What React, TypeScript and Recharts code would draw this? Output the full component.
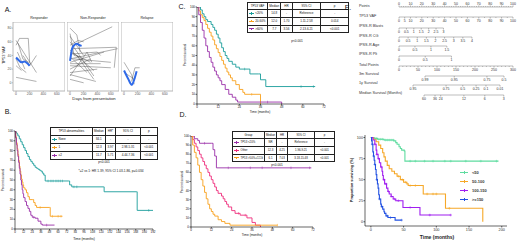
import React from 'react';
import { ComposedChart, Line, Scatter, XAxis, YAxis, ReferenceArea } from 'recharts';

const FONT = '"Liberation Sans", Arial, Helvetica, sans-serif';

type P = [number, number];

// ---------- A: TP53 VAF trajectories (day, VAF %) ----------
const responderTracks: P[][] = [
  [[0, 62], [300, 15]],
  [[0, 55], [50, 65], [180, 65], [200, 30]],
  [[20, 45], [130, 20]],
  [[0, 8], [300, 2]],
  [[100, 40], [200, 25], [300, 40]],
  [[0, 35], [60, 22], [150, 15]],
  [[30, 58], [100, 35], [220, 28]],
  [[0, 25], [80, 18]],
];
const responderTrend: P[] = [[0, 37], [40, 33], [80, 30], [120, 31], [160, 29], [200, 25]];

const nonResponderTracks: P[][] = [
  [[0, 80], [100, 70], [150, 45]],
  [[50, 55], [620, 82]],
  [[0, 68], [200, 40]],
  [[0, 60], [350, 10]],
  [[20, 50], [680, 52], [650, 22]],
  [[0, 45], [300, 30]],
  [[0, 42], [400, 45], [450, 40]],
  [[0, 38], [250, 15]],
  [[0, 30], [500, 45]],
  [[0, 20], [300, 35]],
  [[0, 15], [400, 20]],
  [[0, 10], [250, 45], [320, 30]],
  [[0, 25], [600, 22]],
  [[0, 5], [200, 0]],
  [[50, 35], [600, 30]],
  [[0, 55], [120, 62], [200, 60]],
  [[0, 48], [350, 18]],
  [[100, 40], [350, 5]],
  [[0, 28], [450, 28]],
  [[0, 12], [380, 2]],
  [[0, 35], [700, 50]],
  [[0, 72], [60, 40], [150, 38]],
];
const nonResponderTrend: P[] = [[0, 32], [15, 42], [30, 50], [60, 55], [100, 57], [140, 55], [170, 54]];

const relapseTracks: P[][] = [
  [[0, 30], [110, 12], [150, -2]],
  [[110, 2], [160, 22], [230, 22]],
  [[20, 14], [140, 6]],
];
const relapseTrend: P[] = [[0, 18], [60, 6], [115, -3], [150, 5], [185, 17]];

const aXTicks = [0, 200, 400, 600];
const aYTicks = [0, 20, 40, 60, 80];

// ---------- B: TP53 abnormalities (months, % surviving) ----------
const bNone: P[] = [[0, 100], [1, 99], [2, 98], [3, 97], [4, 95], [6, 92], [8, 89], [10, 86], [12, 83], [14, 80], [16, 77], [18, 74], [20, 71], [22, 69], [24, 67], [26, 65], [28, 63], [30, 62], [32, 61], [34, 60], [36, 59], [38, 57], [40, 55], [42, 49], [74, 49], [76, 45], [79, 43], [123, 43], [124, 38], [169, 38], [170, 19], [192, 19]];
const bOne: P[] = [[0, 100], [1, 94], [2, 88], [3, 82], [4, 76], [5, 70], [6, 64], [7, 59], [8, 55], [9, 51], [10, 48], [11, 45], [12, 42], [14, 40], [16, 37], [18, 33], [20, 30], [24, 30], [26, 27], [28, 24], [30, 22], [48, 22], [49, 13], [66, 13]];
const bTwo: P[] = [[0, 100], [1, 93], [2, 86], [3, 80], [4, 74], [5, 68], [6, 62], [7, 56], [8, 50], [9, 45], [10, 40], [11, 36], [12, 32], [14, 28], [16, 24], [18, 21], [20, 18], [22, 14], [24, 12], [28, 11], [32, 8], [36, 5], [38, 4], [55, 4]];
const bNoneCens = [46, 50, 53, 57, 60, 63, 66, 82, 86, 186];
const bOneCens = [35, 52, 60, 64];
const bTwoCens = [26, 44];
const bTicks = [0, 12, 24, 36, 48, 60, 72, 84, 96, 108, 120, 132, 144, 156, 168, 180, 192];
const pctTicks = [0, 10, 20, 30, 40, 50, 60, 70, 80, 90, 100];
const bHeader = ['TP53 abnormalities', 'Median', 'HR*', '95% CI', 'p'];
const bRows = [
  ['None', '84.1', '-', '-', '-'],
  ['1', '12.3', '3.97', '2.98-5.31', '<0.001'],
  ['\u22652', '11.7', '5.71', '4.44-7.36', '<0.001'],
];

// ---------- C: TP53 VAF groups ----------
const cLow: P[] = [[0, 100], [2, 97], [3, 93], [4, 90], [5, 87], [6, 85], [8, 82], [9, 79], [10, 76], [11, 72], [12, 68], [13, 63], [14, 58], [15, 54], [16, 50], [17, 47], [18, 44], [20, 41], [22, 38], [24, 36], [29, 36], [30, 31], [35, 31], [36, 25], [38, 25], [39, 18], [67, 18]];
const cMid: P[] = [[0, 100], [1, 96], [2, 92], [3, 89], [4, 86], [5, 82], [6, 78], [7, 74], [8, 70], [9, 66], [10, 61], [11, 57], [12, 53], [13, 49], [14, 45], [15, 41], [16, 37], [17, 33], [18, 30], [19, 27], [20, 24], [22, 20], [24, 15], [26, 12], [27, 10], [36, 10], [36, 0]];
const cHigh: P[] = [[0, 100], [1, 92], [2, 84], [3, 76], [4, 68], [5, 60], [6, 54], [7, 48], [8, 43], [9, 38], [10, 34], [11, 30], [12, 27], [13, 24], [14, 20], [16, 15], [18, 10], [20, 7], [22, 4], [23, 2], [48, 2], [48, 0]];
const cLowCens = [27, 59, 66];
const cMidCens = [31];
const cHighCens = [40];
const kmTicks72 = [0, 12, 24, 36, 48, 60, 72];
const cHeader = ['TP53 VAF', 'Median', 'HR', '95% CI', 'p'];
const cRows = [
  ['<20%', '14.8', '-', 'Reference', '-'],
  ['20-60%', '12.0', '1.70', '1.11-2.58', '0.014'],
  ['>60%', '7.7', '3.56', '2.13-6.21', '<0.001'],
];

// ---------- D: combined groups ----------
const dLow: P[] = [[0, 100], [2, 97], [4, 95], [5, 92], [12, 92], [13, 85], [14, 78], [15, 65], [71, 65]];
const dOther: P[] = [[0, 100], [1, 96], [2, 92], [3, 88], [4, 84], [5, 80], [6, 76], [7, 72], [8, 68], [9, 64], [10, 60], [11, 56], [12, 52], [13, 48], [14, 44], [15, 40], [16, 37], [18, 34], [19, 31], [20, 28], [21, 25], [22, 22], [24, 18], [26, 15], [29, 13], [33, 10], [36, 5], [38, 2], [41, 2], [41, 0]];
const dHigh: P[] = [[0, 100], [1, 90], [2, 82], [3, 76], [4, 68], [5, 60], [6, 52], [7, 45], [8, 38], [9, 31], [10, 25], [11, 20], [12, 17], [13, 14], [14, 12], [16, 8], [18, 6], [20, 4], [23, 2], [51, 2]];
const dLowCens = [8, 22, 35, 42, 59, 70];
const dOtherCens = [28, 32];
const dHighCens = [51];
const dHeader = ['Group', 'Median', 'HR', '95% CI', 'p'];
const dRows = [
  ['TP53 <20%', 'NR', '-', 'Reference', '-'],
  ['Other', '12.3', '4.25', '1.96-9.21', '<0.001'],
  ['TP53 >50%+CCG', '6.1', '7.03', '3.18-15.48', '<0.001'],
];

// ---------- E: nomogram ----------
const pointsTicks = [0, 10, 20, 30, 40, 50, 60, 70, 80, 90, 100];
const vafTicks = [0, 5, 10, 20, 30, 40, 50, 60, 70, 80, 90, 100];
const blastTicks = [0, 0.5, 1, 1.5, 2, 2.5, 3];
const cgTicks = [0, 0.5, 1, 1.5, 2, 2.5, 3, 3.5, 4];
const ageTicks = [0, 0.5, 1, 1.5];
const pltTicks = [0, 0.5, 1];
const totalTicks = [0, 50, 100, 150, 200, 250, 300];
const blastMaxPts = 39;
const cgMaxPts = 64;
const ageMaxPts = 42;
const pltMaxPts = 46;
const surv3mLabels = ['0.99', '0.95', '0.75', '0.5'];
const surv3mPts = [68, 145, 231, 276];
const surv1yLabels = ['0.95', '0.75', '0.5', '0.25', '0.1', '0.01'];
const surv1yPts = [38, 125, 169, 204, 230, 267];
const medLabels = ['60', '36', '24', '12', '6', '3'];
const medPts = [66, 95, 110, 171, 226, 276];

// ---------- bottom right: score groups ----------
const eLt50: P[] = [[0, 100], [5, 99], [10, 98], [20, 97], [35, 96], [38, 94], [40, 92], [43, 89], [45, 87], [47, 85], [51, 84], [52, 72], [195, 72]];
const e50: P[] = [[0, 100], [4, 98], [8, 95], [12, 91], [15, 87], [18, 82], [20, 77], [22, 72], [25, 67], [28, 63], [32, 60], [36, 57], [40, 54], [45, 50], [50, 47], [55, 45], [57, 43], [79, 43], [80, 33], [113, 33], [114, 16], [171, 16], [171, 0]];
const e100: P[] = [[0, 100], [3, 97], [6, 92], [8, 85], [9, 80], [11, 75], [13, 70], [15, 65], [17, 60], [18, 55], [19, 50], [21, 45], [24, 40], [26, 36], [28, 33], [31, 30], [34, 27], [38, 25], [48, 25], [49, 17], [74, 17], [75, 8], [122, 8]];
const e150: P[] = [[0, 100], [1, 96], [2, 92], [3, 83], [4, 78], [5, 73], [6, 68], [7, 62], [8, 56], [9, 50], [10, 45], [11, 40], [12, 32], [13, 27], [15, 21], [16, 18], [18, 15], [20, 12], [21, 10], [23, 7], [26, 5], [35, 5], [37, 2], [47, 2]];
const eLt50Cens = [8, 12, 15, 18, 22, 25, 28, 31, 34, 60, 68, 82, 95, 113, 122, 145, 168, 192];
const e50Cens = [42, 48, 53, 60, 68, 86, 95, 100, 120];
const e100Cens = [6, 9, 12, 16, 20, 23, 27, 31, 36, 42, 60, 90, 122];
const e150Cens = [2, 4, 6, 9, 13, 17, 25, 30, 47];
const eGroups = ['<50', '50-100', '100-150', '>=150'];
const eTicksX = [0, 50, 100, 150, 200];
const eTicksY = [0, 25, 50, 75, 100];

const TEAL = '#1a9d9b';
const ORANGE = '#f8a01c';
const PURPLE = '#9a2fa8';
const PINK = '#ee2c7c';
const eColors = ['#5fdca0', '#f6a828', '#a01ef0', '#2251e2'];

type Curve = { name: string; color: string; pts: P[]; cens?: number[] };

const toTS = (pts: P[]) => pts.map(([t, s]) => ({ t, s }));
const toDV = (pts: P[]) => pts.map(([d, v]) => ({ d, v }));

function survAt(pts: P[], t: number) {
  let s = pts[0][1];
  for (const [tt, ss] of pts) {
    if (tt <= t) s = ss;
    else break;
  }
  return s;
}

function Txt({ x, y, s = 4, a = 'c', w = 400, c = '#111', r = 0, children }: any) {
  const tx = a === 'l' ? '0' : '-50%';
  return (
    <div style={{ position: 'absolute', left: x, top: y, transform: `translate(${tx},-50%) rotate(${r}deg)`, fontSize: s, fontWeight: w, color: c, whiteSpace: 'nowrap', lineHeight: 1 }}>
      {children}
    </div>
  );
}

function Facet({ x, title, tracks, trend, showY }: any) {
  const yw = showY ? 9 : 0;
  const w = 52, h = 69, xh = 8;
  return (
    <div style={{ position: 'absolute', left: x - yw, top: 22 }}>
      <ComposedChart width={yw + w} height={h + xh} margin={{ top: 0, right: 0, bottom: 0, left: 0 }}>
        <XAxis type="number" dataKey="d" domain={[-45, 720]} ticks={aXTicks} interval={0} height={xh} axisLine={false}
          tick={{ fontSize: 3.4, fill: '#555' }} tickSize={1.2} tickMargin={0.5} stroke="#777" strokeWidth={0.4} allowDataOverflow />
        <YAxis type="number" dataKey="v" domain={[-12, 89]} ticks={aYTicks} interval={0} width={yw} hide={!showY} axisLine={false}
          tick={{ fontSize: 3.4, fill: '#555' }} tickSize={1.2} tickMargin={0.5} stroke="#777" strokeWidth={0.4} allowDataOverflow />
        <ReferenceArea x1={-45} x2={720} y1={-12} y2={89} fill="none" stroke="#b0b0b0" strokeWidth={0.9} ifOverflow="visible" />
        {tracks.map((tr: P[], i: number) => (
          <Line key={i} data={toDV(tr)} dataKey="v" type="linear" stroke="#444" strokeOpacity={0.85} strokeWidth={0.5} dot={false} isAnimationActive={false} />
        ))}
        <Line data={toDV(trend)} dataKey="v" type="monotone" stroke="#2f6ae8" strokeWidth={2} dot={false} isAnimationActive={false} />
      </ComposedChart>
      <Txt x={yw + w / 2} y={-3} s={3.6} c="#222">{title}</Txt>
    </div>
  );
}

function censorShape(color: string, plus: boolean) {
  return (p: any) => (
    <g>
      <line x1={p.cx} x2={p.cx} y1={p.cy - 1.3} y2={p.cy + 1.3} stroke={color} strokeWidth={0.5} />
      {plus && <line x1={p.cx - 1.3} x2={p.cx + 1.3} y1={p.cy} y2={p.cy} stroke={color} strokeWidth={0.5} />}
    </g>
  );
}

function KM({ box, xDomain, xTicks, yDomain, yTicks, curves, yw = 8, font = 3, tickColor = '#111', lw = 0.9, plus = false }: any) {
  const pad = 3, xh = 7;
  return (
    <div style={{ position: 'absolute', left: box.x - yw, top: box.y - pad }}>
      <ComposedChart width={yw + box.w + pad} height={pad + box.h + xh} margin={{ top: pad, right: pad, bottom: 0, left: 0 }}>
        <XAxis type="number" dataKey="t" domain={xDomain} ticks={xTicks} interval={0} height={xh} allowDataOverflow
          tick={{ fontSize: font, fill: tickColor }} tickSize={1.5} tickMargin={0.5} stroke="#000" strokeWidth={0.6} />
        <YAxis type="number" dataKey="s" domain={yDomain} ticks={yTicks} interval={0} width={yw} allowDataOverflow
          tick={{ fontSize: font, fill: tickColor }} tickSize={1.5} tickMargin={0.5} stroke="#000" strokeWidth={0.6} />
        {curves.map((c: Curve) => (
          <Line key={c.name} name={c.name} data={toTS(c.pts)} dataKey="s" type="stepAfter" stroke={c.color} strokeWidth={lw} dot={false} isAnimationActive={false} />
        ))}
        {curves.filter((c: Curve) => c.cens).map((c: Curve) => (
          <Scatter key={c.name + '-cens'} data={(c.cens as number[]).map((t) => ({ t, s: survAt(c.pts, t) }))} dataKey="s"
            shape={censorShape(c.color, plus)} isAnimationActive={false} />
        ))}
      </ComposedChart>
    </div>
  );
}

function StatTable({ x, y, cols, rowH, header, rows, colors, fs = 3 }: any) {
  const cell: React.CSSProperties = { border: '0.5px solid #222', padding: 0, height: rowH, lineHeight: 1, textAlign: 'center', whiteSpace: 'nowrap' };
  return (
    <table style={{ position: 'absolute', left: x, top: y, borderCollapse: 'collapse', tableLayout: 'fixed', fontSize: fs, fontFamily: FONT, color: '#111', width: cols.reduce((a: number, b: number) => a + b, 0) }}>
      <colgroup>{cols.map((w: number, i: number) => <col key={i} style={{ width: w }} />)}</colgroup>
      <tbody>
        <tr>{header.map((h: string, i: number) => <td key={i} style={cell}>{h}</td>)}</tr>
        {rows.map((r: string[], ri: number) => (
          <tr key={ri}>
            {r.map((v, i) => (
              <td key={i} style={{ ...cell, textAlign: i === 0 ? 'left' : 'center' }}>
                {i === 0 && (
                  <span style={{ display: 'inline-block', width: 5, height: 0, borderTop: `0.8px solid ${colors[ri]}`, margin: '0 1.5px 0 1px', verticalAlign: 'middle', position: 'relative' }}>
                    <span style={{ position: 'absolute', left: 2.1, top: -1.6, width: 0, height: 2.4, borderLeft: `0.5px solid ${colors[ri]}` }} />
                  </span>
                )}
                {v}
              </td>
            ))}
          </tr>
        ))}
      </tbody>
    </table>
  );
}

function NomoAxis({ left, width, axisY, domain, major, minor = [], fmt = (v: number) => String(v), top = false }: any) {
  const h = 8, side = 4;
  const majorSet = new Set<number>(major);
  const all = [...major, ...minor.filter((m: number) => !majorSet.has(m))].sort((a, b) => a - b);
  const renderTick = (p: any) => {
    const v = p.payload.value;
    const big = majorSet.has(v);
    const dir = top ? -1 : 1;
    return (
      <g>
        <line x1={p.x} x2={p.x} y1={p.y} y2={p.y + dir * (big ? 1.6 : 0.9)} stroke="#444" strokeWidth={0.35} />
        {big && (
          <text x={p.x} y={top ? p.y - 2.3 : p.y + 5} textAnchor="middle" fontSize={3.5} fill="#333" fontFamily={FONT}>{fmt(v)}</text>
        )}
      </g>
    );
  };
  return (
    <div style={{ position: 'absolute', left: left - side, top: top ? axisY - h : axisY - 1 }}>
      <ComposedChart width={width + 2 * side} height={h + 1} margin={{ top: 0, right: side, bottom: 0, left: side }}>
        <XAxis type="number" dataKey="x" orientation={top ? 'top' : 'bottom'} domain={domain} ticks={all} interval={0} height={h}
          tickSize={0} tickMargin={0} tickLine={false} tick={renderTick} stroke="#444" strokeWidth={0.35} allowDataOverflow />
        <YAxis hide domain={[0, 1]} />
        <Line data={domain.map((x: number) => ({ x, y: 0 }))} dataKey="y" stroke="none" dot={false} isAnimationActive={false} />
      </ComposedChart>
    </div>
  );
}

const range = (a: number, b: number, step: number) => {
  const out: number[] = [];
  for (let v = a; v <= b + 1e-9; v += step) out.push(Math.round(v * 100) / 100);
  return out;
};

export default function App() {
  const NX = 399, NW = 114;
  const ptsW = (p: number) => (NW * p) / 100;
  const survAxis = (y: number, labels: string[], pts: number[]) => {
    const lo = pts[0], hi = pts[pts.length - 1];
    const map = new Map(pts.map((p, i) => [p, labels[i]]));
    return (
      <NomoAxis left={NX + (NW * lo) / 300} width={(NW * (hi - lo)) / 300} axisY={y} domain={[lo, hi]} major={pts} fmt={(v: number) => map.get(v) ?? ''} />
    );
  };
  const nomoNames: [string, number][] = [
    ['Points', 7.3], ['TP53 VAF', 17], ['IPSS-R Blasts', 27], ['IPSS-R CG', 36.7], ['IPSS-R Age', 45.7],
    ['IPSS-R Plt', 55], ['Total Points', 65.7], ['3m Survival', 75], ['1y Survival', 84.3], ['Median Survival (Months)', 94.3],
  ];

  return (
    <div style={{ position: 'absolute', left: 0, top: 0, width: 520, height: 244, background: '#fff', fontFamily: FONT, overflow: 'hidden' }}>
      {/* A */}
      <Txt x={8} y={9} s={7}>A.</Txt>
      <Facet x={13} title="Responder" tracks={responderTracks} trend={responderTrend} showY />
      <Facet x={67} title="Non-Responder" tracks={nonResponderTracks} trend={nonResponderTrend} />
      <Facet x={121} title="Relapse" tracks={relapseTracks} trend={relapseTrend} />
      <Txt x={4} y={55} s={4} r={-90} c="#222">TP53 VAF</Txt>
      <Txt x={94} y={99} s={4.2} c="#222">Days from presentation</Txt>

      {/* B */}
      <Txt x={8} y={111} s={7}>B.</Txt>
      <KM box={{ x: 15, y: 131, w: 138, h: 98 }} xDomain={[0, 192]} xTicks={bTicks} yDomain={[0, 100]} yTicks={pctTicks}
        curves={[
          { name: 'None', color: TEAL, pts: bNone, cens: bNoneCens },
          { name: '1', color: ORANGE, pts: bOne, cens: bOneCens },
          { name: '2+', color: PURPLE, pts: bTwo, cens: bTwoCens },
        ]} />
      <StatTable x={50} y={127} cols={[41.7, 13.3, 10, 25, 16.7]} rowH={7} header={bHeader} rows={bRows} colors={[TEAL, ORANGE, PURPLE]} />
      <Txt x={104} y={163} s={3.2}>p&lt;0.001</Txt>
      <Txt x={111} y={171.5} s={3.2}>*{'\u2265'}2 vs 1: HR 1.39, 95% CI 1.03-1.86, p=0.034</Txt>
      <Txt x={4} y={180} s={3.2} r={-90}>Percent survival</Txt>
      <Txt x={84} y={240} s={3.4}>Time (months)</Txt>

      {/* C */}
      <Txt x={182} y={6} s={7}>C.</Txt>
      <KM box={{ x: 197, y: 7, w: 127, h: 97 }} xDomain={[0, 72]} xTicks={kmTicks72} yDomain={[0, 100]} yTicks={pctTicks}
        curves={[
          { name: '<20%', color: TEAL, pts: cLow, cens: cLowCens },
          { name: '20-60%', color: ORANGE, pts: cMid, cens: cMidCens },
          { name: '>60%', color: PURPLE, pts: cHigh, cens: cHighCens },
        ]} />
      <StatTable x={246.7} y={1.7} cols={[20.7, 12.7, 11.7, 28.3, 28.3]} rowH={6.7} header={cHeader} rows={cRows} colors={[TEAL, ORANGE, PURPLE]} />
      <Txt x={297} y={42} s={3.2}>p&lt;0.001</Txt>
      <Txt x={186} y={55} s={3.2} r={-90}>Percent survival</Txt>
      <Txt x={260} y={113} s={3.2}>Time (months)</Txt>

      {/* D */}
      <Txt x={183} y={114} s={7}>D.</Txt>
      <KM box={{ x: 191, y: 136, w: 122, h: 91 }} xDomain={[0, 72]} xTicks={kmTicks72} yDomain={[0, 100]} yTicks={pctTicks}
        curves={[
          { name: 'TP53 <20%', color: PURPLE, pts: dLow, cens: dLowCens },
          { name: 'Other', color: PINK, pts: dOther, cens: dOtherCens },
          { name: 'TP53 >50%+CCG', color: ORANGE, pts: dHigh, cens: dHighCens },
        ]} />
      <StatTable x={232} y={130.7} cols={[32, 12, 11, 27, 20]} rowH={6.7} header={dHeader} rows={dRows} colors={[PURPLE, PINK, ORANGE]} fs={2.8} />
      <Txt x={277} y={166} s={3.2}>p&lt;0.001</Txt>
      <Txt x={183} y={182} s={3.2} r={-90}>Percent survival</Txt>
      <Txt x={252} y={236} s={3.2}>Time (months)</Txt>

      {/* E nomogram */}
      <Txt x={348} y={7} s={7}>E.</Txt>
      {nomoNames.map(([n, y]) => (
        <Txt key={n} x={359} y={y} a="l" s={3.8} c="#333">{n}</Txt>
      ))}
      <NomoAxis left={NX} width={NW} axisY={6.7} domain={[0, 100]} major={pointsTicks} minor={range(0, 100, 2)} top />
      <NomoAxis left={NX} width={NW} axisY={17.3} domain={[0, 100]} major={vafTicks} minor={range(0, 100, 5)} />
      <NomoAxis left={NX} width={ptsW(blastMaxPts)} axisY={28} domain={[0, 3]} major={blastTicks} />
      <NomoAxis left={NX} width={ptsW(cgMaxPts)} axisY={37.3} domain={[0, 4]} major={cgTicks} />
      <NomoAxis left={NX} width={ptsW(ageMaxPts)} axisY={46.3} domain={[0, 1.5]} major={ageTicks} />
      <NomoAxis left={NX} width={ptsW(pltMaxPts)} axisY={55.7} domain={[0, 1]} major={pltTicks} />
      <NomoAxis left={NX} width={NW} axisY={66} domain={[0, 300]} major={totalTicks} minor={range(0, 300, 10)} />
      {survAxis(76, surv3mLabels, surv3mPts)}
      {survAxis(85, surv1yLabels, surv1yPts)}
      {survAxis(95, medLabels, medPts)}

      {/* bottom right */}
      <KM box={{ x: 365, y: 135, w: 142, h: 91 }} xDomain={[-9, 208]} xTicks={eTicksX} yDomain={[-5, 103]} yTicks={eTicksY}
        yw={12} font={3.8} tickColor="#333" lw={1.1} plus
        curves={[
          { name: eGroups[0], color: eColors[0], pts: eLt50, cens: eLt50Cens },
          { name: eGroups[1], color: eColors[1], pts: e50, cens: e50Cens },
          { name: eGroups[2], color: eColors[2], pts: e100, cens: e100Cens },
          { name: eGroups[3], color: eColors[3], pts: e150, cens: e150Cens },
        ]} />
      {eGroups.map((g, i) => (
        <div key={g} style={{ position: 'absolute', left: 460, top: 172 + i * 9 - 2.5, height: 5, display: 'flex', alignItems: 'center' }}>
          <span style={{ position: 'relative', display: 'inline-block', width: 8, height: 0, borderTop: `1px solid ${eColors[i]}` }}>
            <span style={{ position: 'absolute', left: 3.5, top: -2, height: 3, borderLeft: `0.8px solid ${eColors[i]}` }} />
          </span>
          <span style={{ fontSize: 4, fontWeight: 700, color: '#333', marginLeft: 4 }}>{g}</span>
        </div>
      ))}
      <Txt x={353} y={180} s={3.8} w={700} r={-90} c="#222">Proportion surviving (%)</Txt>
      <Txt x={437} y={237} s={5} w={700} c="#222">Time (months)</Txt>
    </div>
  );
}
